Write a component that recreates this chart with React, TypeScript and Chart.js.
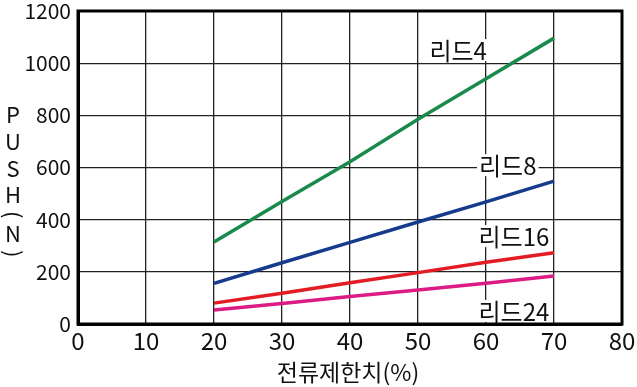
import React, { useEffect, useRef } from "react";
import { Chart, registerables } from "chart.js";

Chart.register(...registerables);

const FONT = "'Noto Sans CJK KR', 'Noto Sans', sans-serif";

const currentLimit = [20, 30, 40, 50, 60, 70];
const lead4 = [314, 470, 622, 785, 940, 1096];
const lead8 = [156, 235, 313, 391, 468, 548];
const lead16 = [80, 118, 158, 197, 237, 273];
const lead24 = [54, 79, 105, 130, 156, 184];

const seriesNames = ["리드4", "리드8", "리드16", "리드24"];
const seriesColors = ["#1a8a4c", "#163a8c", "#e31b23", "#dd1b84"];
const labelAnchors = [
  { x: 55.9, y: 1050 },
  { x: 63.2, y: 609 },
  { x: 64.1, y: 337 },
  { x: 64.1, y: 50 },
];

const xTitle = "전류제한치(%)";
const yTitleChars = ["P", "U", "S", "H", "(", "N", ")"];

function toPoints(values: number[]) {
  return values.map((v, i) => ({ x: currentLimit[i], y: v }));
}

const decorPlugin = {
  id: "decor",
  afterDatasetsDraw(chart: any) {
    const { ctx, chartArea, scales } = chart;
    ctx.save();
    ctx.strokeStyle = "#000";
    ctx.lineWidth = 3;
    ctx.strokeRect(chartArea.left, chartArea.top, chartArea.right - chartArea.left, chartArea.bottom - chartArea.top);

    ctx.font = `400 24px ${FONT}`;
    ctx.textAlign = "center";
    ctx.textBaseline = "middle";
    seriesNames.forEach((name, i) => {
      const px = scales.x.getPixelForValue(labelAnchors[i].x);
      const py = scales.y.getPixelForValue(labelAnchors[i].y);
      const w = ctx.measureText(name).width;
      ctx.fillStyle = "#fff";
      ctx.fillRect(px - w / 2 - 2, py - 11, w + 4, 22);
      ctx.fillStyle = "#111";
      ctx.fillText(name, px, py + 1);
    });

    ctx.font = `400 22px ${FONT}`;
    let y = 115;
    const xPos = 13;
    yTitleChars.forEach((ch, i) => {
      const isParen = ch === "(" || ch === ")";
      if (isParen) {
        ctx.save();
        ctx.translate(xPos, y);
        ctx.rotate(Math.PI / 2);
        ctx.fillText(ch, 0, 0);
        ctx.restore();
      } else {
        ctx.fillText(ch, xPos, y);
      }
      const next = yTitleChars[i + 1];
      if (next === undefined) return;
      const nextParen = next === "(" || next === ")";
      y += isParen || nextParen ? 19.5 : 26.7;
    });

    ctx.font = `400 23px ${FONT}`;
    ctx.fillText(xTitle, (chartArea.left + chartArea.right) / 2 - 2, 372);
    ctx.restore();
  },
};

export default function App() {
  const canvasRef = useRef<HTMLCanvasElement | null>(null);

  useEffect(() => {
    if (!canvasRef.current) return;
    const datasets = [lead4, lead8, lead16, lead24].map((vals, i) => ({
      label: seriesNames[i],
      data: toPoints(vals),
      borderColor: seriesColors[i],
      backgroundColor: seriesColors[i],
      borderWidth: 3.5,
      pointRadius: 0,
      tension: 0,
      fill: false,
    }));
    const chart = new Chart(canvasRef.current, {
      type: "line",
      data: { datasets },
      plugins: [decorPlugin],
      options: {
        animation: false,
        responsive: false,
        maintainAspectRatio: false,
        layout: { padding: { top: 11, right: 15, left: 0, bottom: 0 } },
        plugins: { legend: { display: false }, tooltip: { enabled: false } },
        scales: {
          x: {
            type: "linear",
            min: 0,
            max: 80,
            ticks: { stepSize: 10, color: "#111", font: { family: FONT, size: 24, weight: "400" }, padding: 2 },
            grid: { color: "#222", lineWidth: 1.3, drawTicks: false },
            border: { display: true, color: "#000", width: 3 },
            afterFit: (s: any) => {
              s.height = 63;
              s.paddingLeft = 0;
              s.paddingRight = 0;
            },
          },
          y: {
            type: "linear",
            min: 0,
            max: 1200,
            ticks: {
              stepSize: 200,
              color: "#111",
              font: { family: FONT, size: 21, weight: "400" },
              padding: 7,
              callback: (v: any) => String(v),
            },
            grid: { color: "#222", lineWidth: 1.3, drawTicks: false },
            border: { display: true, color: "#000", width: 3 },
            afterFit: (s: any) => {
              s.width = 78;
              s.paddingTop = 0;
              s.paddingBottom = 0;
            },
          },
        },
      },
    });
    return () => chart.destroy();
  }, []);

  return (
    <div style={{ position: "absolute", left: 0, top: 0, width: 637, height: 387, background: "#fff" }}>
      <canvas ref={canvasRef} width={637} height={387} style={{ width: 637, height: 387 }} />
    </div>
  );
}
